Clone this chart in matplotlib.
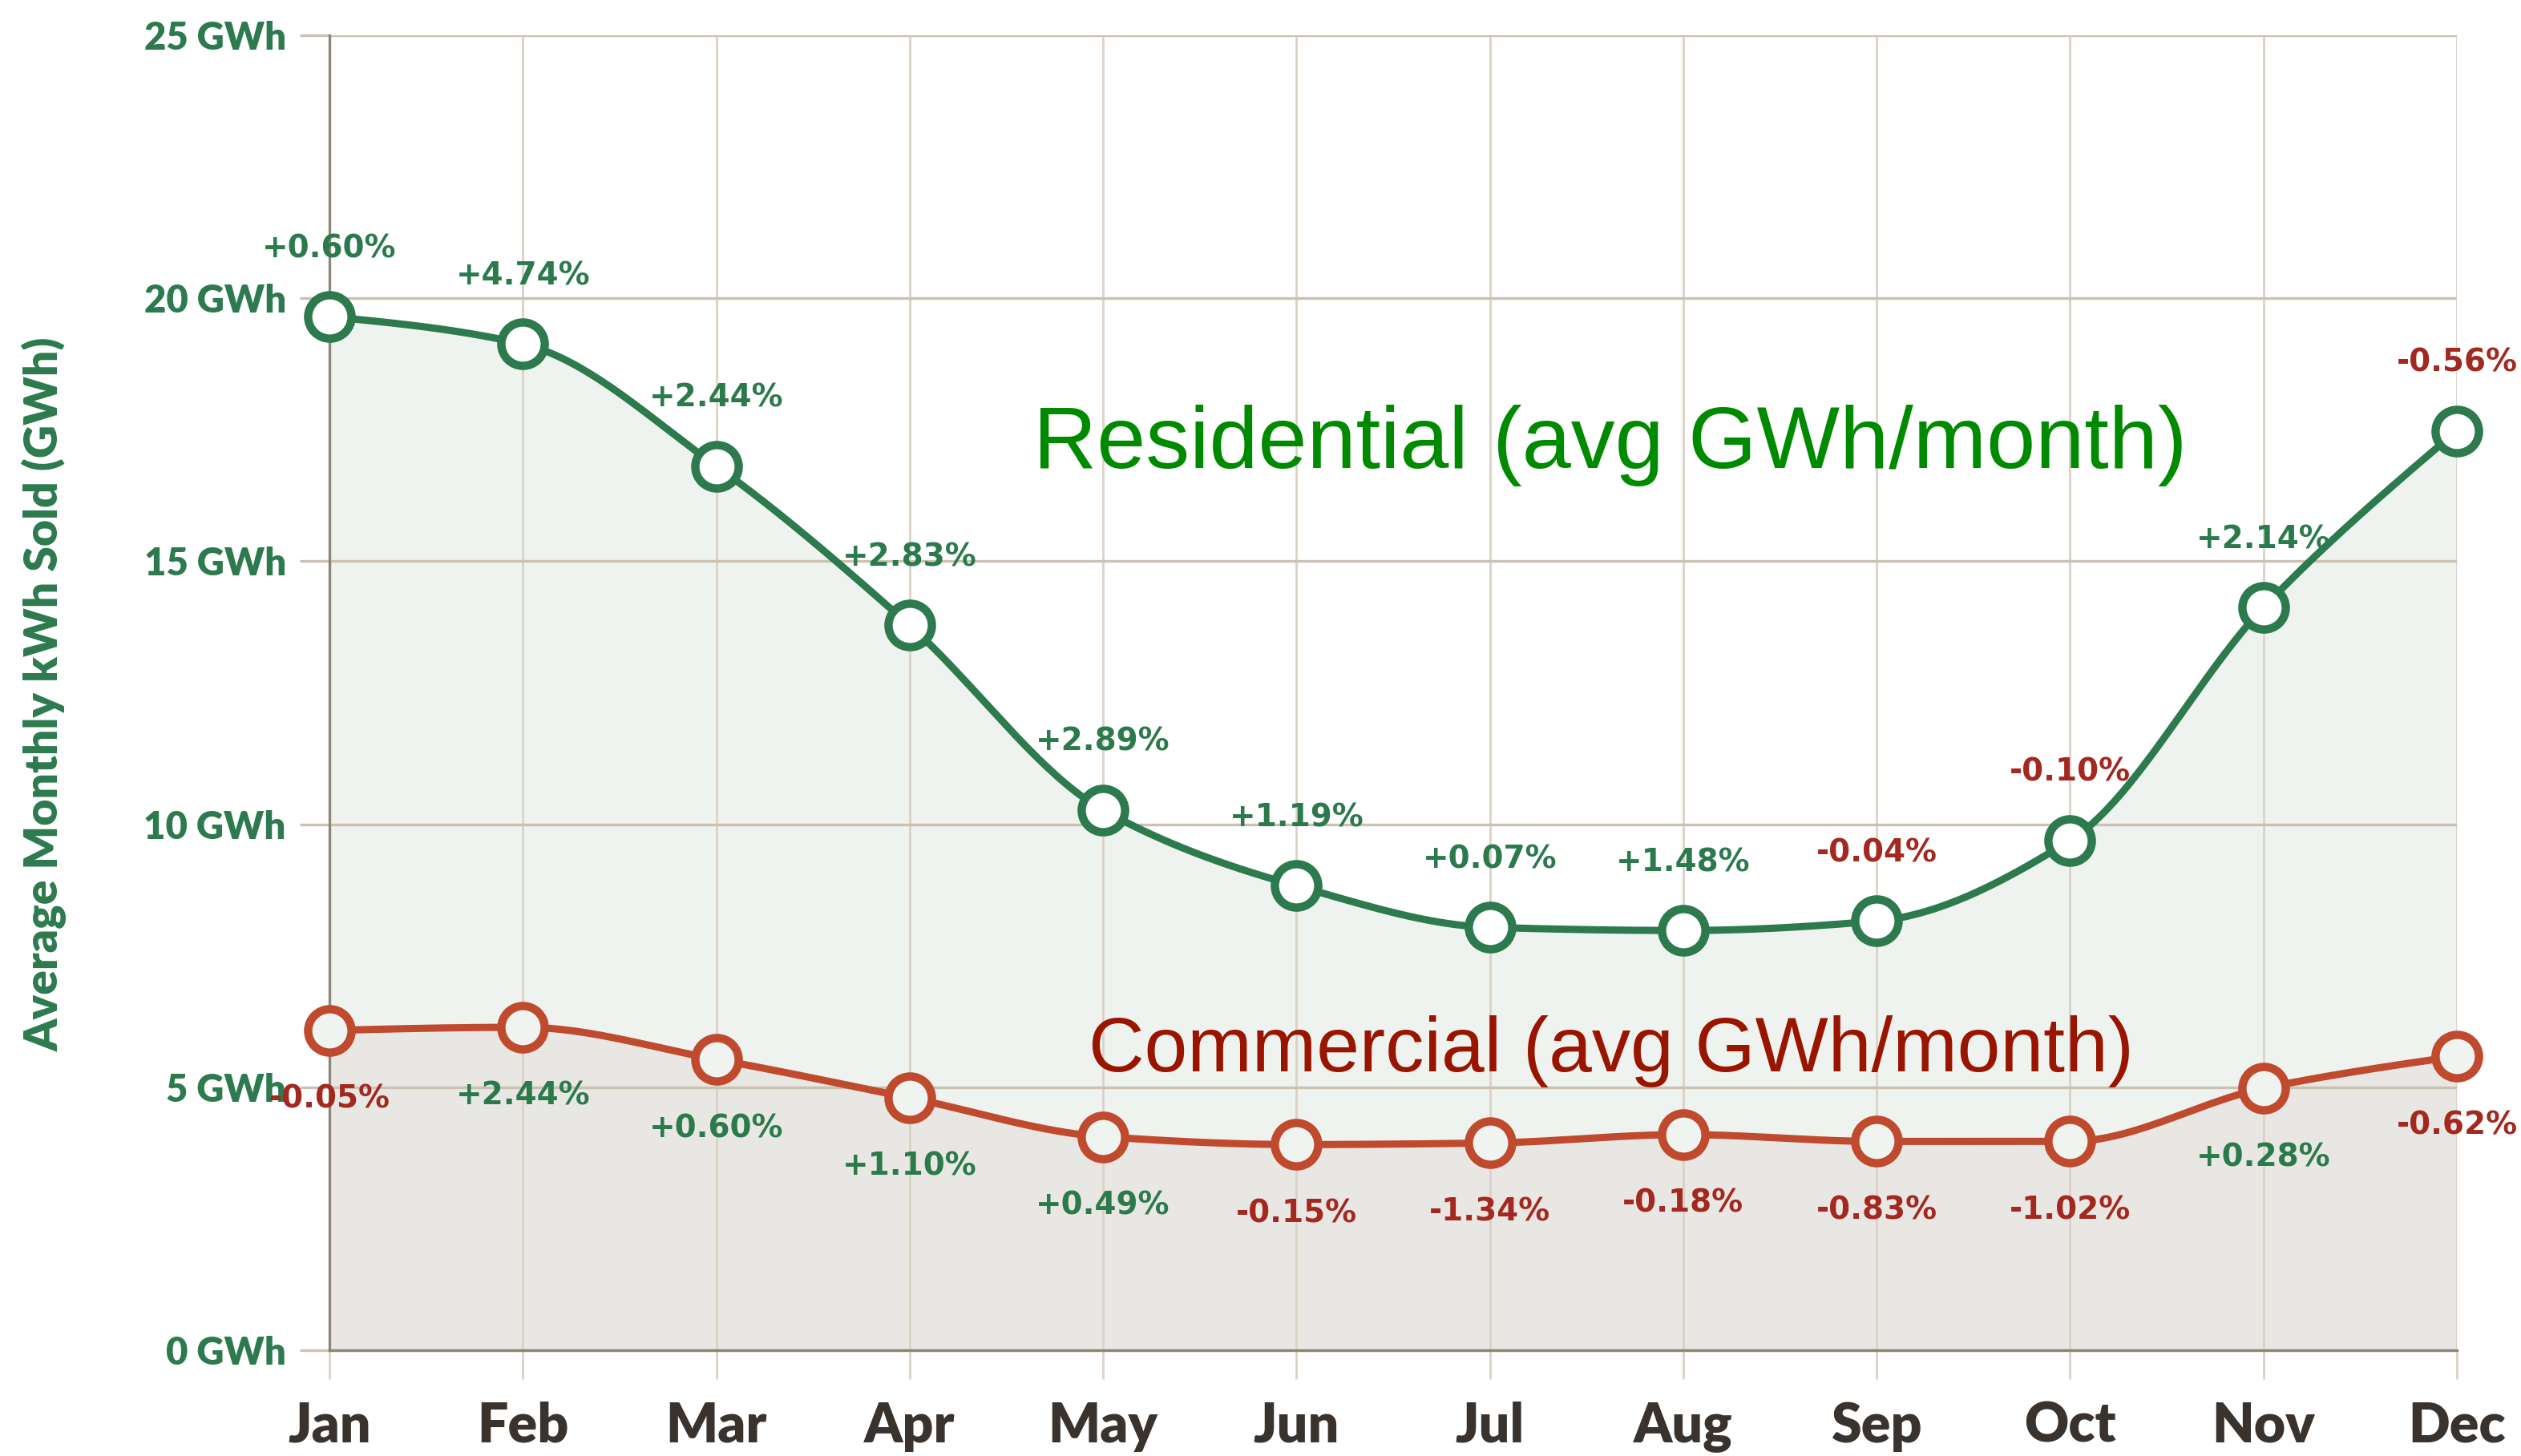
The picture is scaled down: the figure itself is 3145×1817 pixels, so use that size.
import numpy as np
import matplotlib
matplotlib.use("Agg")
import matplotlib.pyplot as plt

months = ["Jan", "Feb", "Mar", "Apr", "May", "Jun", "Jul", "Aug", "Sep", "Oct", "Nov", "Dec"]
residential = [19.65, 19.13, 16.81, 13.78, 10.27, 8.83, 8.04, 7.98, 8.16, 9.69, 14.12, 17.48]
commercial = [6.08, 6.14, 5.53, 4.80, 4.06, 3.91, 3.94, 4.10, 3.97, 3.97, 4.98, 5.59]
res_pct = ["+0.60%", "+4.74%", "+2.44%", "+2.83%", "+2.89%", "+1.19%", "+0.07%", "+1.48%", "-0.04%", "-0.10%", "+2.14%", "-0.56%"]
com_pct = ["-0.05%", "+2.44%", "+0.60%", "+1.10%", "+0.49%", "-0.15%", "-1.34%", "-0.18%", "-0.83%", "-1.02%", "+0.28%", "-0.62%"]
yticks = [0, 5, 10, 15, 20, 25]
ytick_labels = ["0 GWh", "5 GWh", "10 GWh", "15 GWh", "20 GWh", "25 GWh"]

GREEN = "#2c7a4d"
RED_LINE = "#c04a2e"
RED_TXT = "#a3281f"
POS_TXT = "#2a7a4b"


def monotone(x, y, n=40):
    x = np.asarray(x, float)
    y = np.asarray(y, float)
    h = np.diff(x)
    d = np.diff(y) / h
    m = np.zeros_like(y)
    for k in range(1, len(y) - 1):
        if d[k - 1] * d[k] <= 0:
            m[k] = 0.0
        else:
            w1 = 2 * h[k] + h[k - 1]
            w2 = h[k] + 2 * h[k - 1]
            m[k] = (w1 + w2) / (w1 / d[k - 1] + w2 / d[k])
    m[0] = (3 * d[0] - m[1]) / 2
    m[-1] = (3 * d[-1] - m[-2]) / 2
    xs, ys = [], []
    for k in range(len(x) - 1):
        t = np.linspace(0, 1, n, endpoint=(k == len(x) - 2))
        h00 = 2 * t**3 - 3 * t**2 + 1
        h10 = t**3 - 2 * t**2 + t
        h01 = -2 * t**3 + 3 * t**2
        h11 = t**3 - t**2
        xs.append(x[k] + t * h[k])
        ys.append(h00 * y[k] + h10 * h[k] * m[k] + h01 * y[k + 1] + h11 * h[k] * m[k + 1])
    return np.concatenate(xs), np.concatenate(ys)


fig = plt.figure(figsize=(31.45, 18.17), dpi=100)
ax = fig.add_axes([411 / 3145, 1 - 1685 / 1817, (3065 - 411) / 3145, (1685 - 44) / 1817])

x = np.arange(len(months))
rx, ry = monotone(x, residential)
cx, cy = monotone(x, commercial)

ax.fill_between(rx, 0, ry, color="#eef3ef", zorder=1, linewidth=0)
ax.fill_between(cx, 0, cy, color="#e9e7e3", zorder=1.1, linewidth=0)

ax.set_xlim(0, 11)
ax.set_ylim(0, 25)
ax.set_axisbelow("line")
ax.set_xticks(x)
ax.set_xticklabels(months)
ax.set_yticks(yticks)
ax.set_yticklabels(ytick_labels)
ax.grid(axis="y", color="#cbc1b2", linewidth=2.4, zorder=1.5)
ax.grid(axis="x", color="#dad2c6", linewidth=2.0, zorder=1.5)
for s in ["top", "right"]:
    ax.spines[s].set_visible(False)
ax.spines["left"].set_color("#8e8577")
ax.spines["left"].set_linewidth(2.4)
ax.spines["bottom"].set_color("#8e8577")
ax.spines["bottom"].set_linewidth(2.4)

ax.tick_params(axis="y", length=27, width=2.4, color="#cbc1b2", pad=12,
               labelcolor=GREEN, labelsize=34)
ax.tick_params(axis="x", length=26, width=2.0, color="#dad2c6", pad=20,
               labelcolor="#3a332d", labelsize=49)
for lab in ax.get_yticklabels():
    lab.set_fontfamily("Lato")
    lab.set_fontweight("heavy")
for lab in ax.get_xticklabels():
    lab.set_fontfamily("Lato")
    lab.set_fontweight("heavy")

ax.plot(rx, ry, color=GREEN, linewidth=6.5, zorder=3, clip_on=False, solid_capstyle="round")
ax.plot(cx, cy, color=RED_LINE, linewidth=6.5, zorder=3, clip_on=False, solid_capstyle="round")
ax.plot(x, residential, linestyle="none", marker="o", markersize=39, markerfacecolor="white",
        markeredgecolor=GREEN, markeredgewidth=7.5, zorder=4, clip_on=False)
ax.plot(x, commercial, linestyle="none", marker="o", markersize=39, markerfacecolor="#eff4f0",
        markeredgecolor=RED_LINE, markeredgewidth=7.5, zorder=4, clip_on=False)

for xi, v, p in zip(x, residential, res_pct):
    c = RED_TXT if p.startswith("-") else POS_TXT
    ax.annotate(p, (xi, v), xytext=(0, 85), textcoords="offset pixels", ha="center", va="center",
                fontsize=28, fontweight="bold", color=c, family="DejaVu Sans", zorder=5,
                annotation_clip=False)
for xi, v, p in zip(x, commercial, com_pct):
    c = RED_TXT if p.startswith("-") else POS_TXT
    ax.annotate(p, (xi, v), xytext=(0, -86), textcoords="offset pixels", ha="center", va="center",
                fontsize=28, fontweight="bold", color=c, family="DejaVu Sans", zorder=5,
                annotation_clip=False)

fig.text(2009 / 3145, 1 - 556 / 1817, "Residential (avg GWh/month)", color="#008a00",
         fontsize=79, family="Liberation Sans", ha="center", va="center", zorder=6)
fig.text(2010 / 3145, 1 - 1312 / 1817, "Commercial (avg GWh/month)", color="#991500",
         fontsize=69.5, family="Liberation Sans", ha="center", va="center", zorder=6)

fig.text(56 / 3145, 1 - 866 / 1817, "Average Monthly kWh Sold (GWh)", rotation=90,
         color=GREEN, fontsize=41, family="Lato", fontweight="heavy", ha="center", va="center")

fig.savefig("out.png", dpi=100, facecolor="white")
